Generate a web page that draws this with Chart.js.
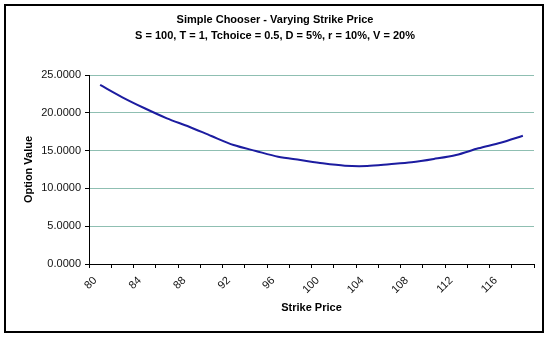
<!DOCTYPE html>
<html>
<head>
<meta charset="utf-8">
<script src="https://cdn.jsdelivr.net/npm/chart.js"></script>
<style>
    html, body { margin: 0; padding: 0; background: #fff; }
    #wrap { width: 550px; height: 337px; }
</style>
</head>
<body>
<div id="wrap">
    <canvas id="chooser-chart" width="550" height="337"></canvas>
</div>
<script>
    // Strike prices (every other one gets a label on the axis)
    var strikes = [80, 82, 84, 86, 88, 90, 92, 94, 96, 98, 100, 102, 104, 106, 108, 110, 112, 114, 116, 118];
    // Option value for each strike
    var optionValues = [23.68, 22.05, 20.60, 19.27, 18.16, 16.93, 15.74, 14.95, 14.19, 13.76,
                        13.32, 13.00, 12.96, 13.19, 13.45, 13.89, 14.42, 15.30, 16.04, 16.97];
    var yTicks = [0, 5, 10, 15, 20, 25];
    var titleLines = ['Simple Chooser - Varying Strike Price', 'S = 100, T = 1, Tchoice = 0.5, D = 5%, r = 10%, V = 20%'];

    var fontFamily = '"Liberation Sans", Arial, sans-serif';

    // White background and the outer frame
    var framePlugin = {
        id: 'frame',
        beforeDraw: function (chart) {
            var ctx = chart.ctx;
            ctx.save();
            ctx.fillStyle = '#fff';
            ctx.fillRect(0, 0, chart.width, chart.height);
            ctx.strokeStyle = '#000';
            ctx.lineWidth = 2;
            ctx.strokeRect(5, 5, 538, 327);
            ctx.restore();
        }
    };

    var ctx = document.getElementById('chooser-chart').getContext('2d');
    var chooserChart = new Chart(ctx, {
        type: 'line',
        data: {
            labels: strikes,
            datasets: [{
                label: 'Option Value',
                data: optionValues,
                borderColor: '#1c1ca0',
                borderWidth: 2,
                pointRadius: 0,
                tension: 0.3,
                fill: false
            }]
        },
        options: {
            responsive: false,
            animation: false,
            layout: { padding: { left: 16, right: 16, top: 0, bottom: 0 } },
            plugins: {
                legend: { display: false },
                tooltip: { enabled: false },
                title: {
                    display: true,
                    text: titleLines,
                    color: '#000',
                    font: { family: fontFamily, size: 11, weight: 'bold', lineHeight: 16 / 11 },
                    padding: { top: 12, bottom: 31 }
                }
            },
            scales: {
                x: {
                    type: 'category',
                    offset: true,
                    afterFit: function (scale) { scale.height = 73; },
                    border: { color: '#000', width: 1 },
                    grid: {
                        offset: true,
                        drawOnChartArea: false,
                        drawTicks: true,
                        tickLength: 4,
                        tickColor: '#000'
                    },
                    ticks: {
                        autoSkip: false,
                        minRotation: 45,
                        maxRotation: 45,
                        padding: 6,
                        labelOffset: -5,
                        color: '#111',
                        font: { family: fontFamily, size: 11 },
                        callback: function (val, i) {
                            return i % 2 === 0 ? strikes[i] : '';
                        }
                    },
                    title: {
                        display: true,
                        text: 'Strike Price',
                        color: '#000',
                        font: { family: fontFamily, size: 11, weight: 'bold' },
                        padding: { top: 0, bottom: 22 }
                    }
                },
                y: {
                    min: yTicks[0],
                    max: yTicks[yTicks.length - 1],
                    afterFit: function (scale) { scale.width = 73; },
                    afterBuildTicks: function (scale) {
                        scale.ticks = yTicks.map(function (v) { return { value: v }; });
                    },
                    border: { color: '#000', width: 1 },
                    grid: {
                        color: '#8fbfb2',
                        lineWidth: 1,
                        drawTicks: true,
                        tickLength: 4,
                        tickColor: '#000'
                    },
                    ticks: {
                        padding: 4,
                        color: '#111',
                        font: { family: fontFamily, size: 11 },
                        callback: function (v) { return Number(v).toFixed(4); }
                    },
                    title: {
                        display: true,
                        text: 'Option Value',
                        color: '#000',
                        font: { family: fontFamily, size: 11, weight: 'bold' },
                        padding: { top: 6, bottom: 0 }
                    }
                }
            }
        },
        plugins: [framePlugin]
    });
</script>
</body>
</html>
